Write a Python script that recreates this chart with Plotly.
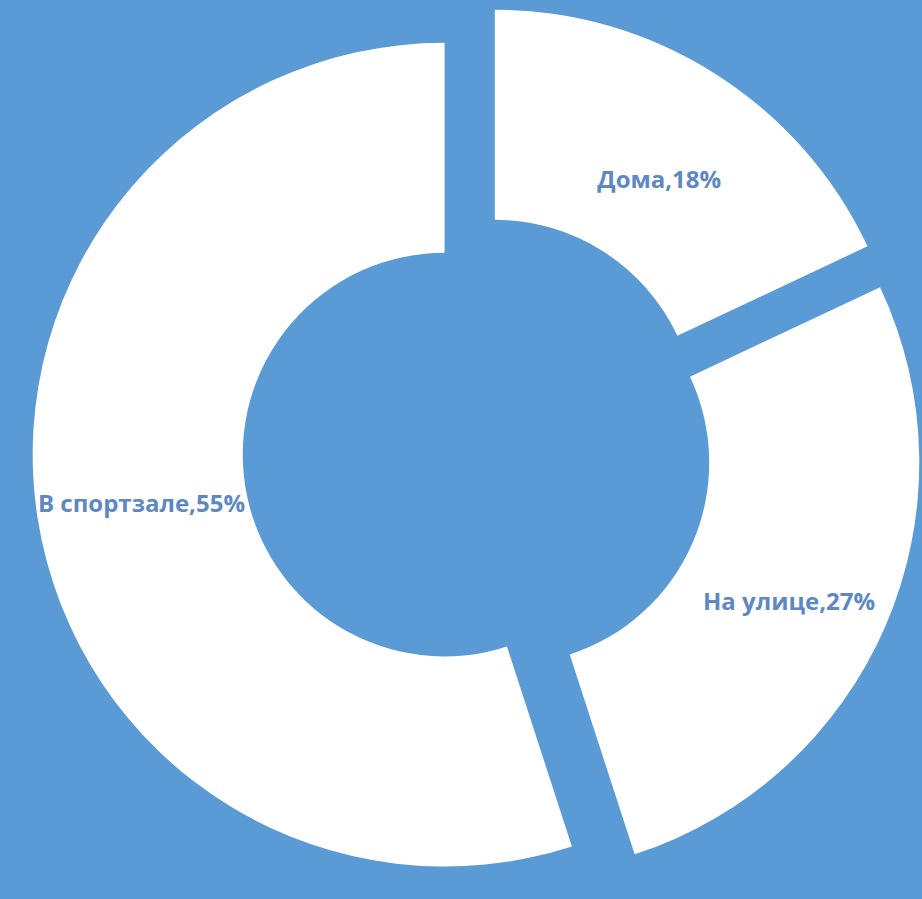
import plotly.graph_objects as go

# Where people exercise, share of respondents (%)
places = ["Дома", "На улице", "В спортзале"]
shares = [18, 27, 55]

BG = "#5b9bd5"
TEXT = "#5d88c4"
FONT_SIZE = 24

# an empty first line nudges the two smaller labels a little below the slice centre
label_fmt = [" <br>%{label},%{percent}", " <br>%{label},%{percent}", "%{label},%{percent}"]

fig = go.Figure(
    go.Pie(
        labels=places,
        values=shares,
        sort=False,
        direction="clockwise",
        rotation=0,
        hole=0.49,
        pull=[0.08, 0.08, 0.08],
        marker=dict(colors=["#ffffff"] * 3, line=dict(width=0)),
        texttemplate=label_fmt,
        textposition="inside",
        insidetextorientation="horizontal",
        textfont=dict(family="Open Sans", size=FONT_SIZE, color=TEXT, weight="bold"),
        showlegend=False,
        hoverinfo="label+percent",
        domain=dict(x=[0.035, 1.0], y=[0.0, 1.0]),
    )
)

fig.update_layout(
    width=922,
    height=899,
    margin=dict(l=0, r=0, t=0, b=0),
    paper_bgcolor=BG,
    plot_bgcolor=BG,
    uniformtext=dict(minsize=FONT_SIZE, mode="show"),
)

fig.write_html("out.html")
